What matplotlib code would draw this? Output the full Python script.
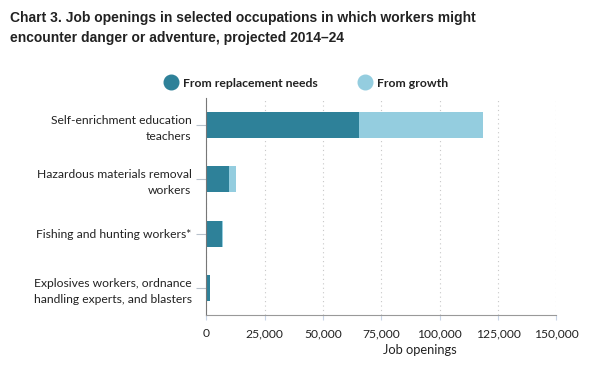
import matplotlib.pyplot as plt
from matplotlib.lines import Line2D
from matplotlib.ticker import FuncFormatter

occupations = [
    "Self-enrichment education\nteachers",
    "Hazardous materials removal\nworkers",
    "Fishing and hunting workers*",
    "Explosives workers, ordnance\nhandling experts, and blasters",
]
replacement = [65400, 9700, 6800, 1400]
growth = [53200, 3200, 400, 100]
x_ticks = [0, 25000, 50000, 75000, 100000, 125000, 150000]

dark = "#2e8199"
light = "#94cddf"
font = ["Lato", "DejaVu Sans"]

fig = plt.figure(figsize=(6, 3.71), dpi=100)
ax = fig.add_axes([0.344, 0.151, 0.5833, 0.585])

y = range(len(occupations))
ax.barh(y, replacement, height=0.48, color=dark)
ax.barh(y, growth, left=replacement, height=0.48, color=light)

ax.set_xlim(0, 150000)
ax.set_ylim(3.5, -0.5)
ax.set_xticks(x_ticks)
ax.xaxis.set_major_formatter(FuncFormatter(lambda v, p: f"{int(v):,}"))
ax.set_yticks(list(y))
ax.set_yticklabels(occupations, family=font, fontsize=8.7, color="#222222",
                   linespacing=1.55)
for lab in ax.get_xticklabels():
    lab.set_family(font)
    lab.set_fontsize(8.7)
    lab.set_color("#222222")

ax.tick_params(axis="y", length=7.2, width=0.8, color="#b8c2cc", pad=3.5)
ax.tick_params(axis="x", length=3.5, width=0.8, color="#c8d4e6", pad=6)

ax.grid(axis="x", linestyle=(0, (1, 3)), color="#c8c8c8", linewidth=0.8)
ax.set_axisbelow(True)
for s in ["top", "right"]:
    ax.spines[s].set_visible(False)
ax.spines["left"].set_color("#777777")
ax.spines["bottom"].set_color("#999999")

fig.text(0.7, 0.056, "Job openings", ha="center", va="center",
         family=font, fontsize=9.3, color="#222222")

fig.text(0.017, 0.925, "Chart 3. Job openings in selected occupations in which workers might\n"
         "encounter danger or adventure, projected 2014\u201324",
         ha="left", va="center", family=["Liberation Sans", "DejaVu Sans"],
         fontweight="bold", fontsize=10, color="#222222", linespacing=1.5)

handles = [Line2D([], [], marker="o", linestyle="", markersize=10.5, color=dark),
           Line2D([], [], marker="o", linestyle="", markersize=10.5, color=light)]
leg = fig.legend(handles, ["From replacement needs", "From growth"],
                 loc="center", bbox_to_anchor=(0.51, 0.776), ncol=2, frameon=False,
                 prop={"family": font, "weight": "bold", "size": 8.8},
                 handletextpad=0.35, columnspacing=3.3, handlelength=1.2)
for t in leg.get_texts():
    t.set_color("#222222")

fig.savefig("out.png", dpi=100)
